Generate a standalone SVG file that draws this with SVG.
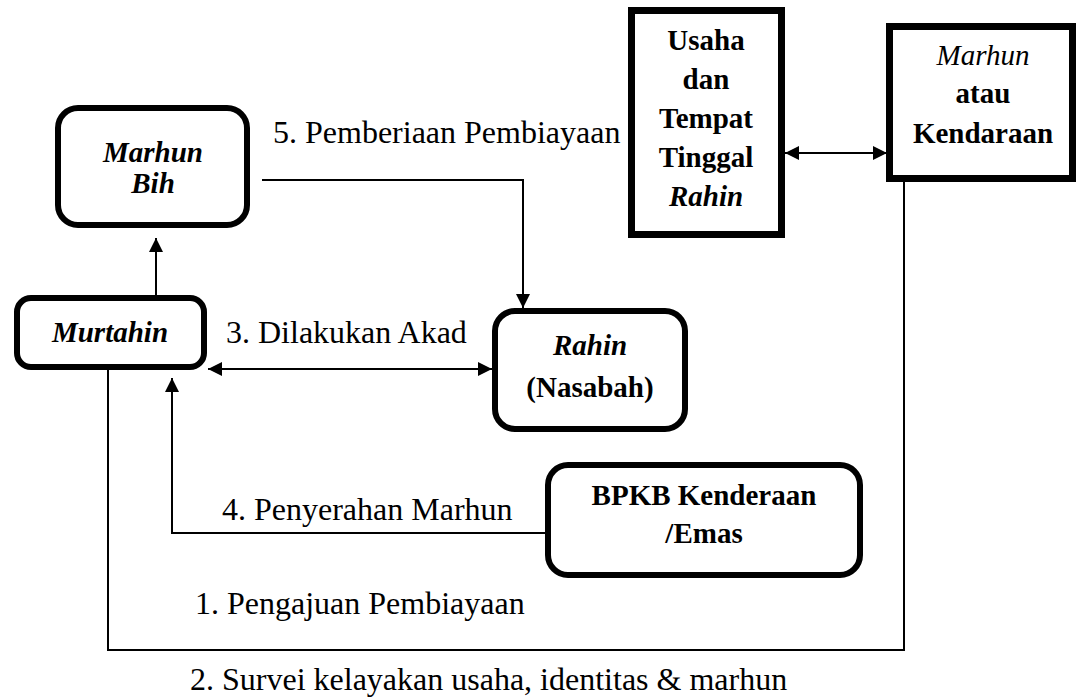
<svg xmlns="http://www.w3.org/2000/svg" width="1078" height="700" viewBox="0 0 1078 700">
<style>
.rbox{fill:#fff;stroke:#000;stroke-width:6}
.sbox{fill:#fff;stroke:#000;stroke-width:7}
.nt{font-family:"Liberation Serif","Times New Roman",Tinos,serif;font-size:29px;font-weight:bold;text-anchor:middle;fill:#000}
.it{font-style:italic}
.nw{font-weight:normal}
.lbl{font-family:"Liberation Serif","Times New Roman",Tinos,serif;font-size:32px;fill:#000}
.ln{fill:none;stroke:#000;stroke-width:2}
</style>
<defs>
<marker id="ah" viewBox="0 0 10 10" refX="10" refY="5" markerWidth="7" markerHeight="7" markerUnits="strokeWidth" orient="auto-start-reverse">
<path d="M0,0 L10,5 L0,10 z" fill="#000"/>
</marker>
</defs>
<rect width="1078" height="700" fill="#fff"/>
<g id="connectors">
<line class="ln" x1="156" y1="298" x2="156" y2="238" marker-end="url(#ah)"/>
<polyline class="ln" points="262,180 523,180 523,308" marker-end="url(#ah)"/>
<line class="ln" x1="208" y1="369" x2="492" y2="369" marker-start="url(#ah)" marker-end="url(#ah)"/>
<line class="ln" x1="785" y1="153" x2="887" y2="153" marker-start="url(#ah)" marker-end="url(#ah)"/>
<polyline class="ln" points="545,533 172,533 172,378" marker-end="url(#ah)"/>
<polyline class="ln" points="904,152 904,650 108,650 108,367"/>
</g>
<g id="marhun-bih">
<rect class="rbox" x="58" y="108" width="189" height="117" rx="20"/>
<text class="nt it" x="153" y="162">Marhun</text>
<text class="nt it" x="153" y="193">Bih</text>
</g>
<g id="murtahin">
<rect class="rbox" x="17" y="298" width="187" height="69" rx="14"/>
<text class="nt it" x="110" y="342">Murtahin</text>
</g>
<g id="rahin">
<rect class="rbox" x="495" y="311" width="190" height="118" rx="20"/>
<text class="nt it" x="590" y="355">Rahin</text>
<text class="nt" x="590" y="397">(Nasabah)</text>
</g>
<g id="bpkb">
<rect class="rbox" x="548" y="465" width="312" height="110" rx="20"/>
<text class="nt" x="704" y="505">BPKB Kenderaan</text>
<text class="nt" x="704" y="543">/Emas</text>
</g>
<g id="usaha">
<rect class="sbox" x="631.5" y="10.5" width="150" height="224"/>
<text class="nt" x="706" y="50">Usaha</text>
<text class="nt" x="706" y="89">dan</text>
<text class="nt" x="706" y="128">Tempat</text>
<text class="nt" x="706" y="167">Tinggal</text>
<text class="nt it" x="706" y="206">Rahin</text>
</g>
<g id="marhun-kendaraan">
<rect class="sbox" x="889.5" y="26.5" width="183" height="152"/>
<text class="nt it nw" x="983" y="65">Marhun</text>
<text class="nt" x="983" y="103">atau</text>
<text class="nt" x="983" y="143">Kendaraan</text>
</g>
<g id="labels">
<text class="lbl" x="273" y="143">5. Pemberiaan Pembiayaan</text>
<text class="lbl" x="226" y="343">3. Dilakukan Akad</text>
<text class="lbl" x="222" y="520">4. Penyerahan Marhun</text>
<text class="lbl" x="195" y="614">1. Pengajuan Pembiayaan</text>
<text class="lbl" x="190" y="690">2. Survei kelayakan usaha, identitas &amp; marhun</text>
</g>
</svg>
